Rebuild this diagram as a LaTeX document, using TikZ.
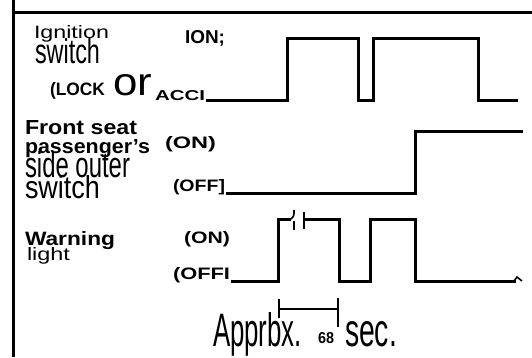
\documentclass[tikz,border=0pt]{standalone}
\usepackage{fontspec}
\setmainfont{Liberation Sans}
\usepackage{graphicx}
\tikzset{
  wave/.style={line width=3pt, line join=miter, line cap=butt},
  thin wave/.style={line width=1.6pt},
  frameline/.style={line width=3pt},
  lbl/.style={anchor=base west, inner sep=0pt, outer sep=0pt},
}
\newcommand{\fitt}[3]{\resizebox{#1pt}{#2pt}{#3}}
\begin{document}
\begin{tikzpicture}[x=1pt,y=-1pt]
\fill[white] (0,0) rectangle (532,357);
\useasboundingbox (0,0) rectangle (532,357);
% frame
\draw[frameline] (13,0) -- (13,357);
\draw[frameline] (13,12) -- (532,12);

% ---- Ignition switch
\node[lbl] (ign1) at (34,38) {\fitt{75}{13}{Ignition}};
\node[lbl] (ign2) at (35,63) {\fitt{65}{25}{switch}};
\node[lbl] (lock) at (50,95) {\fitt{55}{13}{\textbf{(LOCK}}};
\node[lbl] (or) at (113,95) {\fitt{39}{21}{or}};
\node[lbl] (acc) at (155,100) {\fitt{50}{10}{\textbf{ACCI}}};
\node[lbl] (ion) at (185,43) {\fitt{40}{13}{\textbf{ION;}}};
\draw[wave] (206,100) -- (287,100) -- (287,38) -- (358,38) -- (358,100)
  -- (373,100) -- (373,38) -- (478,38) -- (478,100) -- (518,100);

% ---- Front seat passenger's side outer switch
\node[lbl] (fs1) at (25,134) {\fitt{112}{14}{\textbf{Front seat}}};
\node[lbl] (fs2) at (25,153) {\fitt{125}{14}{\textbf{passenger's}}};
\node[lbl] (fs3) at (25,177) {\fitt{105}{26}{side outer}};
\node[lbl] (fs4) at (25,198) {\fitt{75}{23}{switch}};
\node[lbl] (fon) at (165,148) {\fitt{51}{12}{\textbf{(ON)}}};
\node[lbl] (foff) at (173,191) {\fitt{52}{12}{\textbf{(OFF]}}};
\draw[wave] (226,193) -- (415,193) -- (415,131) -- (523,131);

% ---- Warning light
\node[lbl] (w1) at (25,245) {\fitt{90}{14}{\textbf{Warning}}};
\node[lbl] (w2) at (27,260) {\fitt{43}{13}{light}};
\node[lbl] (won) at (184,243) {\fitt{46}{12}{\textbf{(ON)}}};
\node[lbl] (woff) at (173,279) {\fitt{57}{12}{\textbf{(OFFI}}};
\draw[wave] (231,281) -- (278,281) -- (278,219) -- (291,219);
\draw[thin wave] (291,219) .. controls (294,216) .. (294,210);
\draw[thin wave] (294,221) -- (294,230);
\draw[thin wave] (304,212) -- (304,229);
\draw[wave] (304,219) -- (339,219) -- (339,281) -- (370,281) -- (370,219)
  -- (415,219) -- (415,281) -- (516,281);
\draw[thin wave] (514,281) -- (517,277) -- (522,281);

% ---- dimension
\coordinate (d1) at (279,309);
\coordinate (d2) at (338,309);
\draw[line width=2pt] (d1) -- (d2);
\draw[line width=1.5pt] (279,299) -- (279,318);
\draw[line width=1.5pt] (338,298) -- (338,327);
\node[lbl] (ap) at (213,346) {\fitt{89}{34}{Apprbx.}};
\node[lbl] (n68) at (318,343) {\fitt{16}{11}{\textbf{68}}};
\node[lbl] (sec) at (345,346) {\fitt{52}{25}{sec.}};
\end{tikzpicture}
\end{document}
